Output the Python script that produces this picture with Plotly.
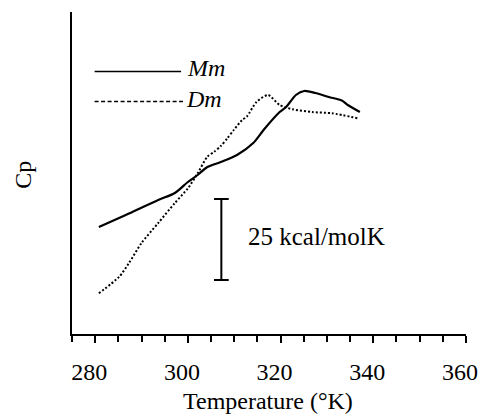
import plotly.graph_objects as go

# Temperature (K) and Cp (arbitrary units)
mm_temp = [280.8, 286.6, 293.6, 297.2, 300.0, 302.1, 304.2, 307.1, 310.6, 314.1,
           316.5, 319.8, 321.2, 323.3, 325.1, 327.5, 330.4, 333.2, 334.5, 337.1]
mm_cp = [107, 119, 134, 141, 152, 159, 167, 172, 179, 191,
         205, 222, 227, 239, 243, 241, 237, 233.5, 229, 222]

dm_temp = [280.8, 285.2, 287.3, 290.0, 293.6, 297.2, 300.0, 302.1, 304.2, 305.7,
           307.1, 308.5, 309.9, 311.7, 312.7, 314.8, 317.3, 319.8, 322.6, 326.8,
           331.1, 336.7]
dm_cp = [40.7, 57.3, 71, 91, 111, 131, 145.7, 160.7, 177.3, 182.3,
         188, 195.7, 204, 214, 217.3, 232, 239, 229, 224.7, 222,
         220.7, 215.7]

x_ticks = [280, 300, 320, 340, 360]
x_tick_labels = ["280", "300", "320", "340", "360"]

FONT = "Liberation Serif"
W, H = 490, 414
L, R, T, B = 72, 17, 12, 80
PW, PH = W - L - R, H - T - B


def px(xp):
    return (xp - L) / PW


def py(yp):
    return (H - B - yp) / PH


fig = go.Figure()
fig.add_trace(go.Scatter(x=mm_temp, y=mm_cp, mode="lines", name="Mm",
                         line=dict(color="black", width=2.2, shape="spline", smoothing=0.7),
                         showlegend=False))
fig.add_trace(go.Scatter(x=dm_temp, y=dm_cp, mode="lines", name="Dm",
                         line=dict(color="black", width=2, dash="2px,2px",
                                   shape="spline", smoothing=0.7),
                         showlegend=False))

shapes = [
    # legend samples
    dict(type="line", xref="paper", yref="paper", x0=px(95), x1=px(183),
         y0=py(71.5), y1=py(71.5), line=dict(color="black", width=1.5)),
    dict(type="line", xref="paper", yref="paper", x0=px(95), x1=px(185),
         y0=py(101.5), y1=py(101.5), line=dict(color="black", width=1.5, dash="4px,2.5px")),
    # scale bar
    dict(type="line", xref="paper", yref="paper", x0=px(224), x1=px(224),
         y0=py(199), y1=py(280), line=dict(color="black", width=2)),
    dict(type="line", xref="paper", yref="paper", x0=px(216.5), x1=px(231.5),
         y0=py(199), y1=py(199), line=dict(color="black", width=2)),
    dict(type="line", xref="paper", yref="paper", x0=px(216.5), x1=px(231.5),
         y0=py(280), y1=py(280), line=dict(color="black", width=2)),
]

annotations = [
    dict(text="<i>Mm</i>", x=px(187), y=py(68), xref="paper", yref="paper",
         xanchor="left", yanchor="middle", showarrow=False,
         font=dict(family=FONT, size=24, color="black")),
    dict(text="<i>Dm</i>", x=px(186), y=py(99), xref="paper", yref="paper",
         xanchor="left", yanchor="middle", showarrow=False,
         font=dict(family=FONT, size=24, color="black")),
    dict(text="25 kcal/molK", x=px(249), y=py(236), xref="paper", yref="paper",
         xanchor="left", yanchor="middle", showarrow=False,
         font=dict(family=FONT, size=25, color="black")),
    dict(text="Temperature (°K)", x=px(271), y=py(401), xref="paper", yref="paper",
         xanchor="center", yanchor="middle", showarrow=False,
         font=dict(family=FONT, size=24, color="black")),
    dict(text="Cp", x=px(22), y=py(175), xref="paper", yref="paper",
         xanchor="center", yanchor="middle", showarrow=False, textangle=-90,
         font=dict(family=FONT, size=24, color="black")),
]

fig.update_layout(
    width=W, height=H,
    margin=dict(l=L, r=R, t=T, b=B, pad=0),
    paper_bgcolor="white", plot_bgcolor="white",
    showlegend=False,
    shapes=shapes, annotations=annotations,
    xaxis=dict(range=[275, 360], tickmode="array", tickvals=x_ticks,
               ticktext=x_tick_labels, ticks="outside", ticklen=7, tickwidth=1.5,
               tickcolor="black", showline=True, linecolor="black", linewidth=2,
               showgrid=False, zeroline=False, ticklabelshift=-6,
               ticklabelstandoff=8,
               tickfont=dict(family=FONT, size=24, color="black"),
               minor=dict(tickmode="linear", tick0=275, dtick=5, ticks="outside",
                          ticklen=6, tickwidth=1.5, tickcolor="black", showgrid=False)),
    yaxis=dict(range=[0, 322], showline=True, linecolor="black", linewidth=2,
               showticklabels=False, ticks="", showgrid=False, zeroline=False),
)

fig.write_html("out.html")
